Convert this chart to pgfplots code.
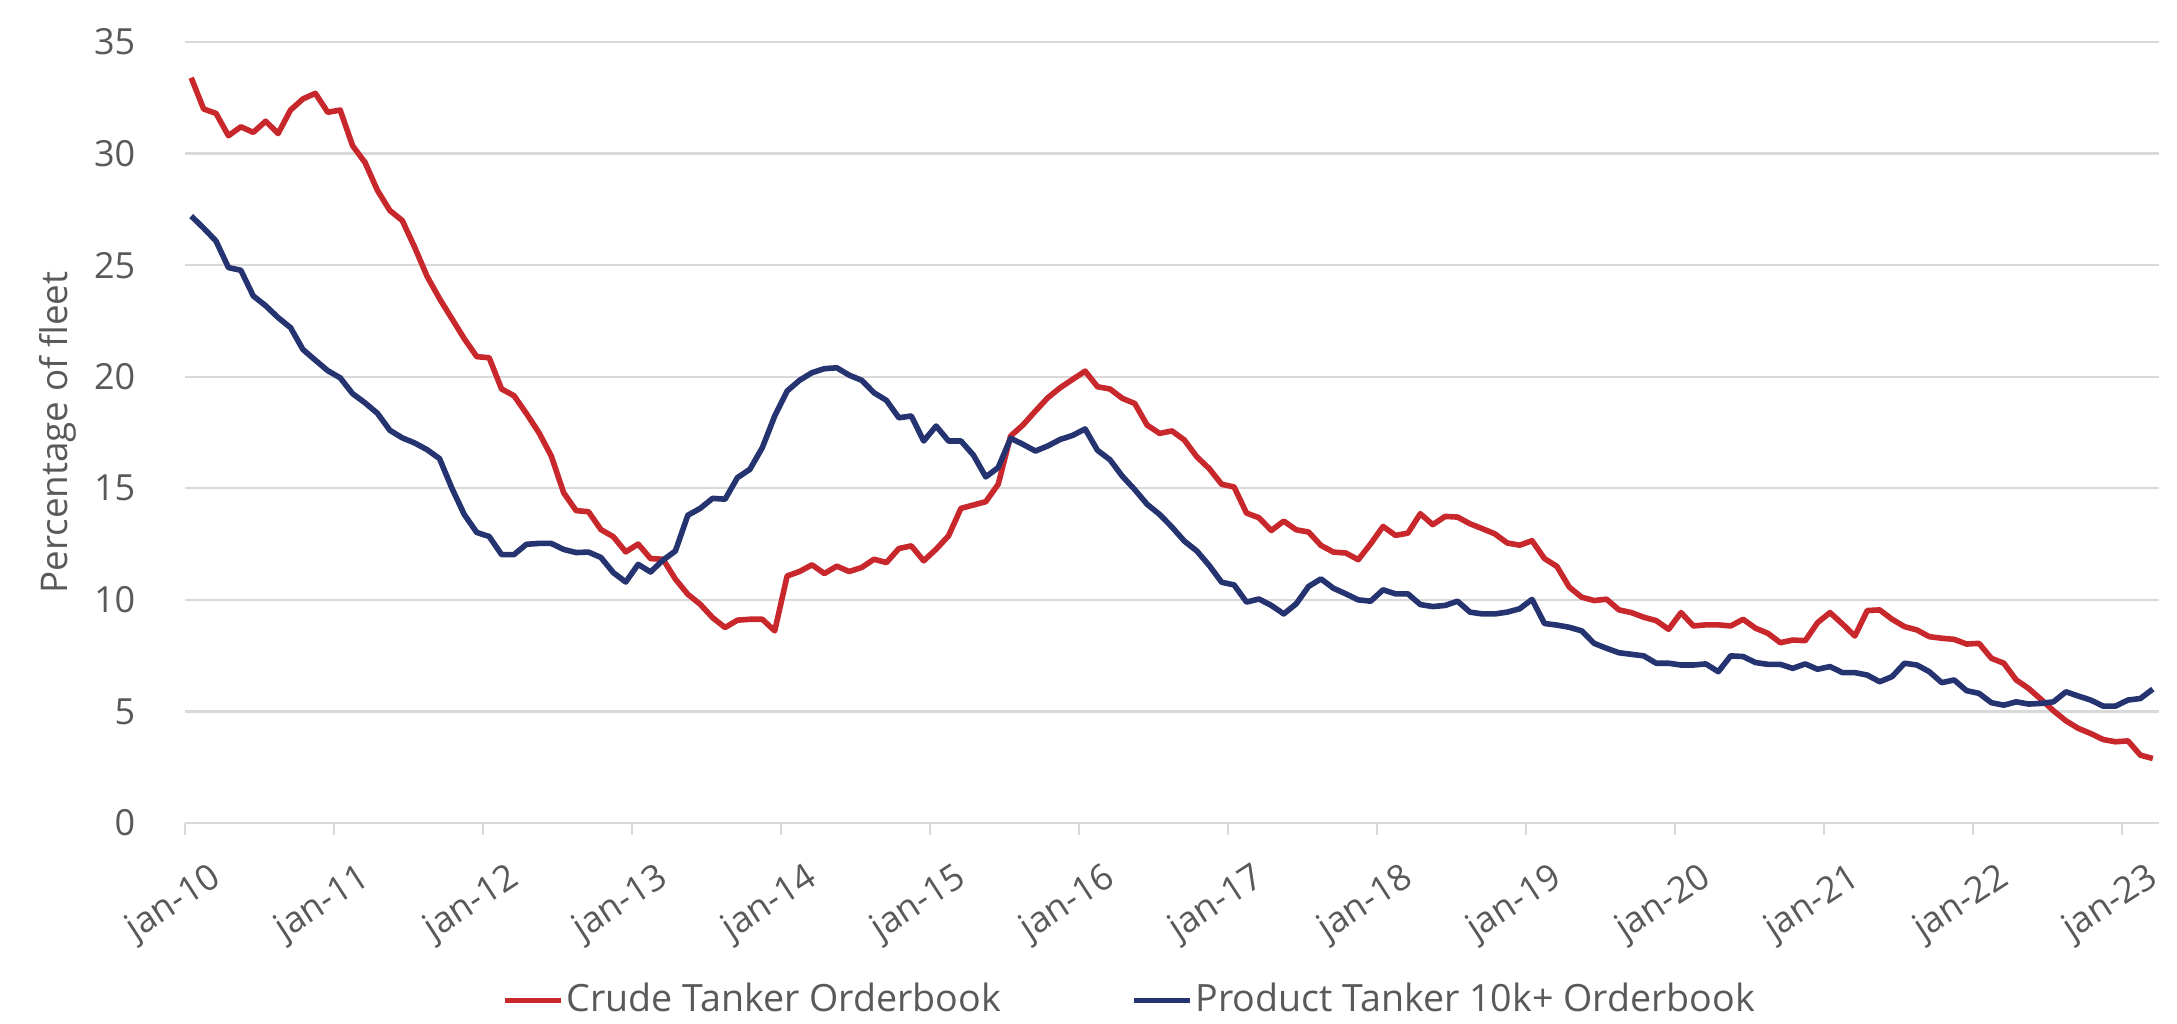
\documentclass[border=0pt]{standalone}
\usepackage{pgfplots}
\usepackage{pgfplotstable}
\pgfplotsset{compat=1.18}
\usepackage{fontspec}
\setmainfont{Open Sans}
\definecolor{crude}{HTML}{C8282C}
\definecolor{prod}{HTML}{253370}
\definecolor{txt}{HTML}{595959}
\definecolor{grd}{HTML}{D9D9D9}
\pgfplotstableread{
i crude prod
0 33.4 27.2
1 32.0 26.66
2 31.8 26.08
3 30.8 24.89
4 31.2 24.77
5 30.95 23.62
6 31.45 23.18
7 30.9 22.65
8 31.95 22.2
9 32.45 21.22
10 32.7 20.74
11 31.85 20.27
12 31.95 19.95
13 30.35 19.24
14 29.6 18.83
15 28.35 18.36
16 27.45 17.6
17 27.0 17.26
18 25.8 17.03
19 24.5 16.73
20 23.5 16.33
21 22.6 15.0
22 21.7 13.82
23 20.9 13.02
24 20.85 12.84
25 19.45 12.03
26 19.15 12.03
27 18.35 12.49
28 17.5 12.53
29 16.45 12.53
30 14.8 12.26
31 14.0 12.12
32 13.95 12.14
33 13.15 11.9
34 12.83 11.22
35 12.15 10.8
36 12.5 11.59
37 11.85 11.25
38 11.82 11.78
39 10.93 12.19
40 10.25 13.79
41 9.8 14.1
42 9.2 14.55
43 8.76 14.51
44 9.09 15.48
45 9.13 15.85
46 9.13 16.82
47 8.61 18.24
48 11.07 19.36
49 11.27 19.84
50 11.57 20.18
51 11.18 20.36
52 11.51 20.4
53 11.27 20.07
54 11.45 19.84
55 11.82 19.28
56 11.67 18.94
57 12.3 18.16
58 12.42 18.24
59 11.75 17.12
60 12.27 17.79
61 12.87 17.12
62 14.1 17.12
63 14.25 16.49
64 14.4 15.51
65 15.18 15.93
66 17.34 17.24
67 17.84 16.97
68 18.46 16.67
69 19.06 16.9
70 19.51 17.19
71 19.88 17.37
72 20.25 17.66
73 19.55 16.7
74 19.45 16.28
75 19.03 15.54
76 18.8 14.94
77 17.83 14.28
78 17.46 13.83
79 17.57 13.26
80 17.16 12.63
81 16.41 12.19
82 15.88 11.54
83 15.18 10.79
84 15.06 10.67
85 13.89 9.9
86 13.68 10.04
87 13.11 9.75
88 13.53 9.37
89 13.14 9.82
90 13.04 10.6
91 12.44 10.94
92 12.14 10.52
93 12.1 10.27
94 11.8 10.0
95 12.51 9.94
96 13.29 10.45
97 12.89 10.27
98 12.99 10.27
99 13.86 9.79
100 13.37 9.7
101 13.74 9.75
102 13.71 9.94
103 13.41 9.45
104 13.19 9.37
105 12.96 9.37
106 12.55 9.45
107 12.45 9.6
108 12.65 10.02
109 11.85 8.94
110 11.5 8.87
111 10.57 8.77
112 10.12 8.61
113 9.97 8.05
114 10.03 7.83
115 9.55 7.63
116 9.43 7.56
117 9.22 7.49
118 9.07 7.16
119 8.68 7.16
120 9.43 7.08
121 8.83 7.08
122 8.88 7.13
123 8.88 6.78
124 8.83 7.49
125 9.13 7.46
126 8.73 7.19
127 8.5 7.11
128 8.08 7.11
129 8.2 6.93
130 8.17 7.13
131 8.98 6.89
132 9.43 7.01
133 8.92 6.74
134 8.38 6.74
135 9.52 6.63
136 9.55 6.33
137 9.13 6.56
138 8.8 7.16
139 8.65 7.08
140 8.35 6.78
141 8.28 6.29
142 8.23 6.41
143 8.02 5.93
144 8.05 5.81
145 7.38 5.39
146 7.16 5.28
147 6.41 5.43
148 6.03 5.33
149 5.54 5.36
150 5.03 5.43
151 4.58 5.88
152 4.24 5.69
153 4.01 5.51
154 3.74 5.24
155 3.64 5.24
156 3.68 5.51
157 3.04 5.58
158 2.89 6.0
}\data

\begin{document}
\begin{tikzpicture}
\begin{axis}[
  name=ax, at={(0,0)}, anchor=south west,
  scale only axis, width=493.5bp, height=195.25bp,
  xmin=0, xmax=159, ymin=0, ymax=35,
  xtick={0,12,...,156},
  xticklabels={jan-10,jan-11,jan-12,jan-13,jan-14,jan-15,jan-16,jan-17,jan-18,jan-19,jan-20,jan-21,jan-22,jan-23},
  ytick={0,5,...,35},
  axis line style={draw=none},
  xtick pos=bottom, ytick pos=left,
  tick align=outside,
  major tick length=3bp,
  xtick style={grd, line width=0.6bp},
  ytick style={draw=none},
  ymajorgrids,
  major grid style={grd, line width=0.6bp},
  /pgf/number format/assume math mode=true,
  tick label style={font=\fontsize{9bp}{10bp}\selectfont, text=txt},
  yticklabel style={anchor=east, inner sep=0pt, xshift=-9.25bp},
  xticklabel style={rotate=33, anchor=north east, inner sep=0pt, xshift=1.5bp, yshift=-8.5bp},
  ylabel={Percentage of fleet},
  ylabel style={at={(axis description cs:0,0.5)}, anchor=south, inner sep=0pt, yshift=27bp, font=\fontsize{9.2bp}{10bp}\selectfont, text=txt},
  legend columns=2,
  legend style={at={(axis description cs:0.4787,-0.2275)}, anchor=center, draw=none, fill=none,
    font=\fontsize{9.4bp}{10bp}\selectfont, text=txt,
    /tikz/every even column/.append style={column sep=32bp},
    nodes={inner sep=0.6bp, text=txt}},
  legend image code/.code={\draw[#1, line width=1.4bp] (0bp,0bp) -- (14bp,0bp);},
]
\coordinate (bl) at (rel axis cs:0,0);
\addplot[crude, line width=1.4bp, line join=round] table[x expr=\thisrow{i}+0.5, y=crude]{\data};
\addlegendentry{Crude Tanker Orderbook}
\addplot[prod, line width=1.4bp, line join=round] table[x expr=\thisrow{i}+0.5, y=prod]{\data};
\addlegendentry{Product Tanker 10k+ Orderbook}
\end{axis}
\pgfresetboundingbox
\path[use as bounding box] (bl) ++(-46.25bp,-50.25bp) rectangle ++(544.25bp,256bp);
\end{tikzpicture}
\end{document}
